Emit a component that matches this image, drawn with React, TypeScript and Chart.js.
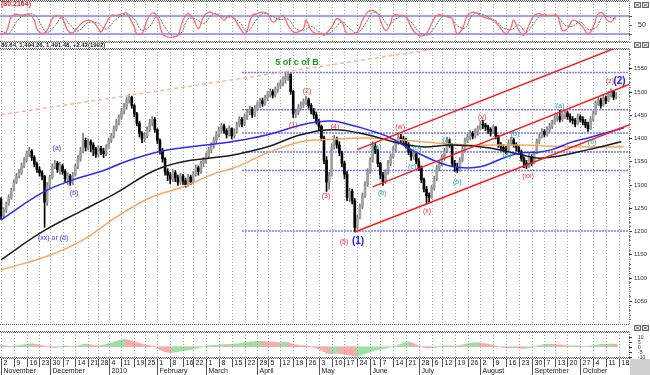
import React, { useEffect, useRef } from "react";
import { Chart, registerables } from "chart.js";
Chart.register(...registerables);

const FONT = "'Liberation Sans', Arial, sans-serif";

// ---------- calendar (categories) ----------
const HOLIDAYS = ["2009-11-26", "2009-12-25", "2010-01-01", "2010-01-18", "2010-02-15", "2010-04-02", "2010-05-31", "2010-07-05", "2010-09-06"];
const MONTH_NAMES = ["January", "February", "March", "April", "May", "June", "July", "August", "September", "October", "November", "December"];

// ---------- price bars (close / high / low per trading day) ----------
const FIRST_OPEN = 1268;
const closes = [1232,1245,1258,1272,1286, 1305,1318,1326,1340,1352, 1366,1372,1358,1344,1332, 1325,1318,1262,1298,1315,
  1338,1346,1332,1340, 1328,1312,1318,1305,1320, 1338,1355,1372,1395,1380, 1392,1385,1376,1365, 1378,1372,1366,1380,
  1395,1405,1420,1432,1445, 1458,1468,1482,1488,1470, 1452,1432,1410,1398, 1405,1418,1432,1440,1418,
  1395,1372,1355,1328,1320, 1312,1325,1314,1305,1318, 1308,1300,1316,1306, 1322,1336,1328,1345,1352,
  1362,1374,1384,1395,1408, 1418,1426,1416,1408,1420, 1405,1414,1428,1440,1430, 1446,1456,1462,1450,1464, 1472,1480,1474,1486,
  1494,1500,1492,1504,1512, 1518,1526,1532,1538,1500, 1452,1455,1466,1472,1478, 1482,1470,1458,1450,1436,
  1425,1400,1352,1305,1318, 1380,1398,1385,1368,1345, 1322,1272,1285,1265,1208, 1228,1252,1276,1300,1328,
  1352,1382,1372,1345, 1320,1306,1326,1346,1360, 1376,1390,1402,1398,1394, 1384,1370,1360,1366,1350, 1336,1310,1290,1276,1272,
  1292,1312,1336,1346, 1358,1372,1394,1386,1346, 1338,1332,1352,1376,1394, 1402,1410,1404,1414,1420,
  1430,1428,1424,1418,1414, 1424,1404,1386,1380,1376, 1374,1390,1396,1386,1380, 1370,1356,1346,1340,1360, 1346,1366,1392,1402,1414,
  1408,1418,1426,1432, 1442,1446,1440,1450,1454, 1446,1440,1438,1430,1446, 1440,1434,1428,1420,1440,
  1452,1474,1482,1470,1486, 1480,1494,1500,1488,1491];
const highs = [1272,1250,1262,1278,1292, 1310,1324,1332,1346,1358, 1372,1380,1375,1362,1348, 1338,1330,1320,1304,1320,
  1344,1352,1350,1348, 1344,1332,1325,1322,1326, 1344,1362,1380,1410,1400, 1398,1396,1390,1380, 1384,1382,1378,1386,
  1400,1410,1426,1440,1450, 1464,1474,1488,1494,1490, 1472,1455,1436,1414, 1412,1424,1440,1446,1444,
  1420,1398,1378,1358,1334, 1326,1332,1330,1320,1324, 1322,1314,1322,1320, 1328,1342,1340,1350,1358,
  1368,1380,1390,1402,1414, 1424,1432,1430,1420,1426, 1422,1420,1434,1446,1444, 1452,1462,1468,1466,1470, 1478,1486,1486,1492,
  1500,1506,1504,1510,1518, 1524,1532,1540,1544,1536, 1502,1462,1472,1478,1484, 1490,1486,1474,1464,1456,
  1440,1428,1404,1360,1326, 1388,1406,1402,1392,1372, 1350,1328,1292,1290,1270, 1234,1258,1282,1306,1334,
  1358,1392,1388,1376, 1348,1326,1332,1352,1366, 1382,1396,1412,1408,1404, 1400,1390,1376,1372,1370, 1356,1340,1314,1296,1282,
  1298,1318,1342,1352, 1364,1378,1402,1398,1388, 1352,1346,1358,1382,1400, 1408,1416,1414,1420,1426,
  1436,1438,1432,1428,1422, 1428,1424,1406,1390,1386, 1382,1396,1402,1400,1390, 1384,1374,1360,1352,1366, 1364,1372,1398,1408,1420,
  1418,1424,1432,1438, 1448,1452,1460,1456,1460, 1458,1452,1446,1442,1452, 1450,1446,1440,1434,1446,
  1458,1480,1488,1486,1492, 1490,1500,1506,1502,1498];
const lows = [1225,1228,1240,1255,1268, 1288,1302,1314,1322,1336, 1348,1360,1352,1338,1326, 1318,1310,1208,1255,1292,
  1312,1334,1326,1322, 1322,1306,1300,1298,1300, 1318,1334,1350,1368,1372, 1374,1370,1362,1358, 1360,1364,1358,1362,
  1378,1390,1400,1415,1428, 1440,1452,1462,1475,1464, 1446,1426,1402,1390, 1392,1400,1414,1426,1412,
  1388,1365,1348,1320,1308, 1302,1306,1306,1298,1300, 1300,1294,1296,1300, 1302,1318,1320,1324,1338,
  1346,1358,1368,1378,1390, 1402,1410,1410,1400,1404, 1398,1400,1410,1424,1424, 1426,1440,1450,1444,1446, 1458,1466,1468,1470,
  1480,1488,1486,1488,1498, 1506,1512,1518,1524,1494, 1444,1444,1450,1460,1466, 1472,1464,1452,1442,1430,
  1418,1394,1345,1285,1290, 1320,1376,1378,1362,1338, 1312,1265,1262,1258,1198, 1204,1226,1248,1272,1296,
  1324,1348,1366,1338, 1312,1298,1302,1322,1340, 1356,1372,1386,1390,1386, 1378,1364,1352,1354,1344, 1330,1304,1284,1258,1262,
  1270,1288,1308,1330, 1340,1352,1368,1380,1340, 1328,1326,1328,1348,1372, 1390,1396,1398,1400,1406,
  1418,1420,1416,1410,1404, 1410,1398,1380,1372,1370, 1366,1370,1384,1380,1372, 1364,1350,1336,1334,1336, 1340,1344,1366,1388,1400,
  1402,1404,1412,1420, 1430,1436,1434,1436,1442, 1440,1434,1430,1424,1428, 1434,1428,1422,1414,1418,
  1436,1450,1470,1464,1468, 1474,1478,1488,1482,1484];

// ---------- moving averages [day index, value] ----------
const maBlue = [[0,1224],[16,1282],[28,1310],[40,1330],[49,1350],[63,1372],[80,1385],[90,1392],[104,1407],[117,1428],[124,1435],[130,1436],[135,1430],[143,1418],[151,1403],[158,1381],[164,1364],[171,1347],[178,1337],[187,1338],[196,1357],[203,1368],[209,1369],[215,1375],[222,1390],[229,1400],[236,1411],[243,1422]];
const maBlack = [[0,1138],[16,1198],[32,1245],[45,1282],[59,1328],[70,1348],[85,1359],[91,1364],[104,1381],[117,1407],[130,1418],[143,1407],[153,1392],[164,1381],[176,1385],[190,1379],[203,1364],[209,1357],[215,1359],[229,1375],[242,1392]];
const maOrange = [[0,1116],[19,1148],[32,1181],[45,1230],[58,1271],[71,1295],[84,1325],[91,1336],[104,1368],[117,1392],[125,1396],[143,1400],[156,1396],[164,1392],[183,1385],[203,1385],[222,1381],[243,1381]];

// ---------- drawn lines ----------
const trendDashed = [[0,1450],[175,1596]];
const channelUpper = [[139,1375],[245,1605]];
const channelMiddle = [[145,1295],[245,1515]];
const channelLower = [[138,1198],[245,1428]];
const fibLevels = [1200, 1330, 1370, 1411, 1461, 1541];
const fibFrom = 94;

// ---------- wave labels [day index, value, text] ----------
const redLabels = [[114,1428,"(1)"],[119.4,1500,"(2)"],[126.8,1275,"(3)"],[130.3,1424,"(4)"],[133.8,1176,"(5)"],[155.7,1424,"(w)"],[166.2,1243,"(x)"],[187.7,1446,"(y)"],[205.6,1318,"(xx)"],[237.6,1523,"(z)"]];
const tealLabels = [[146.7,1381,"(a)"],[148.7,1282,"(b)"],[160.4,1338,"(c)"],[162.3,1379,"(b)"],[174,1396,"(a)"],[178,1306,"(b)"],[197.4,1364,"(a)"],[200.5,1409,"(b)"],[218.1,1469,"(a)"],[230.6,1392,"(b)"]];
const blueLabels = [[21.8,1379,"(a)"],[28.5,1282,"(b)"],[20.3,1185,"(xx) or (d)"]];
const bigBlueLabels = [[139.3,1178,"(1)"],[241.3,1523,"(2)"]];
const titleLabel = [115.5, 1562, "5 of c of B"];
const headerText = "80.64, 1,494.26, 1,491.48, +2.42(1992)";
const priceTicks = [1050,1100,1150,1200,1250,1300,1350,1400,1450,1500,1550];

// ---------- stochastic [day index, value] ----------
const stochK = [[0,21],[2,25],[4,77],[6,86],[7,84],[9,84],[11,86],[13,66],[14,38],[16,21],[18,32],[20,71],[22,82],[24,71],[26,32],[28,24],[30,43],[32,60],[34,66],[36,60],[38,38],[39,27],[41,55],[43,82],[45,82],[47,86],[49,90],[50,77],[52,43],[53,21],[55,21],[57,66],[59,90],[61,77],[63,21],[65,10],[67,10],[69,16],[71,66],[73,88],[75,71],[77,38],[79,77],[81,93],[83,88],[85,82],[87,66],[89,82],[91,71],[93,43],[95,21],[96,32],[98,82],[100,88],[102,93],[104,88],[106,60],[108,71],[110,82],[112,49],[114,27],[116,27],[118,38],[119,66],[121,32],[123,21],[125,21],[126,16],
  [129,43],[131,71],[133,60],[135,21],[137,21],[139,27],[141,66],[143,93],[145,99],[147,88],[148,66],[150,32],[152,55],[153,82],[156,82],[158,77],[160,43],[162,21],[164,13],[166,21],[168,55],[170,82],[173,82],[174,77],[176,71],[177,43],[178,21],[180,38],[182,82],[184,93],[186,88],[188,77],[190,71],[192,66],[194,49],[197,21],[199,43],[200,66],[202,32],[204,16],[206,50],[208,82],[210,88],[212,82],[215,82],[217,82],[219,32],[221,38],[223,66],[225,60],[227,43],[229,21],[231,43],[233,88],[235,88],[236,71],[238,60],[240,82]];
const stochD = [[0,30],[3,22],[6,60],[9,82],[13,84],[16,45],[18,25],[21,48],[24,76],[27,50],[30,30],[34,58],[38,55],[41,36],[45,70],[49,86],[52,70],[55,32],[58,45],[61,80],[64,42],[67,14],[70,20],[73,70],[76,70],[79,55],[83,88],[87,76],[90,76],[93,60],[96,28],[99,60],[102,88],[106,78],[109,68],[112,70],[115,38],[118,32],[121,45],[124,28],[127,18],[130,36],[133,60],[136,38],[139,24],[142,52],[145,90],[148,82],[151,50],[154,70],[157,80],[160,60],[163,28],[166,16],[169,40],[172,76],[175,78],[178,48],[181,40],[184,84],[187,88],[190,76],[193,64],[196,40],[199,34],[202,50],[205,26],[208,58],[211,84],[214,82],[217,80],[220,50],[223,46],[226,60],[229,36],[232,40],[235,80],[238,74],[240,70]];
const stochTitle = "(80.2164)";

// ---------- MACD histogram, one value per trading day ----------
const macdHist = [1.5,1.2,0.8,0.5,0.3,0.5,0.8,1.2,
  1.6,2.0,2.4,2.8,3.0,2.6,2.2, 1.8,1.2,0.6,0.2,-0.4,-0.8,-1.0, -0.6,-0.2,0.3,0.8,0.5,0.2,-0.2, 0.4,1.0,1.6,2.2,2.6,2.2,1.8,
  1.4,1.0,0.8,1.2,1.8,2.4,3.0, 3.8,4.6,5.4,6.2,6.8,7.2,7.0, 6.4,5.8,5.0,4.2,3.4,2.6,2.0, 1.6,1.2,0.6,-0.4,-1.6,-3.0,-4.2,
  -5.0,-5.6,-6.0,-5.6,-5.2,-4.8,-4.4, -4.0,-3.6,-3.4,-3.0,-2.4,-1.8,-1.2, -0.6,0,0.6,1.0,1.2,1.4,1.6, 1.8,2.0,2.2,2.0,2.2,2.4,2.6,
  2.8,3.2,3.6,4.0,4.4,4.8,5.0, 5.2,5.4,5.6,5.4,5.2,5.0,4.8, 4.6,4.2,4.0,4.2,4.4,4.6,4.0, 3.2,2.4,1.8,1.4,1.2,1.0,0.8,
  0.4,-0.2,-0.8,-1.6,-2.4,-3.6,-5.0, -6.6,-7.2,-7.0,-6.6,-6.4,-6.8,-7.2, -7.6,-8.0,-8.4,-9.0,-9.6,-9.2,-8.6, -7.8,-7.0,-6.2,-5.4,-4.4,-3.6,-3.0,
  -2.6,-2.2,-1.6,-1.0,-0.4,0.2,0.8, 1.6,2.6,3.6,4.4,4.8,4.2,3.2, 2.0,0.8,-0.2,-0.8,-1.2,-1.4,-1.0, -0.8,-0.4,0,0.4,0.8,1.0,0.8,
  0.6,0.6,0.8,1.2,1.8,2.4,3.0, 3.4,3.8,4.0,4.2,3.8,3.4,3.0, 2.6,2.0,1.4,0.8,0.2,-0.4,-0.8, -1.0,-1.2,-1.0,-0.8,-1.0,-1.4,-1.6,
  -1.8,-1.6,-1.2,-0.6,0,0.6,1.2, 1.8,2.2,2.4,2.6,2.4,2.2,2.0, 1.8,1.6,1.2,1.0,0.8,0.8,1.0, 0.8,0.6,0.4,0.2,0.4,0.8,1.2,
  1.6,2.0,2.4,2.6,2.4,2.6,2.8,2.6,2.4];
const macdTicks = [10, 5, 0, -5, -10];

// ---------- layout ----------
const W = 650;
const PLOT_RIGHT = 629;
const X_MIN = -0.4;
const X_MAX = 245;

function tradingDays() {
  const out: Date[] = [];
  const d = new Date(Date.UTC(2009, 10, 2));
  const end = Date.UTC(2010, 9, 22);
  while (d.getTime() <= end) {
    const wd = d.getUTCDay();
    const iso = d.toISOString().slice(0, 10);
    if (wd !== 0 && wd !== 6 && !HOLIDAYS.includes(iso)) out.push(new Date(d.getTime()));
    d.setUTCDate(d.getUTCDate() + 1);
  }
  return out;
}

function weekStarts() {
  const days = tradingDays();
  const res: { idx: number; day: number; month: string | null }[] = [];
  let lastMonth = -1;
  days.forEach((d, i) => {
    const newWeek = i === 0 || d.getUTCDay() <= days[i - 1].getUTCDay();
    if (!newWeek) return;
    let j = i;
    let monthHere = -1;
    while (j < days.length && (j === i || days[j].getUTCDay() > days[j - 1].getUTCDay())) {
      const m = days[j].getUTCMonth();
      if (m !== lastMonth && monthHere === -1) monthHere = m;
      j++;
    }
    let label: string | null = null;
    if (monthHere !== -1) {
      lastMonth = monthHere;
      label = monthHere === 0 ? "2010" : MONTH_NAMES[monthHere];
    }
    res.push({ idx: i, day: d.getUTCDate(), month: label });
  });
  return res;
}

const WEEKS = weekStarts();

function pts(arr: number[][]) {
  return arr.map((p) => ({ x: p[0], y: p[1] }));
}

function drawWeekGrid(chart: any) {
  const { ctx, chartArea: a, scales } = chart;
  const x = scales.x;
  ctx.save();
  ctx.strokeStyle = "#a8a8a8";
  ctx.lineWidth = 1;
  ctx.setLineDash([1, 2]);
  WEEKS.forEach((w) => {
    const px = Math.round(x.getPixelForValue(w.idx)) + 0.5;
    if (px < a.left || px > a.right - 1) return;
    ctx.beginPath();
    ctx.moveTo(px, a.top);
    ctx.lineTo(px, a.bottom);
    ctx.stroke();
  });
  ctx.restore();
}

function dottedBorder(ctx: CanvasRenderingContext2D, y: number, x0: number, x1: number) {
  ctx.save();
  ctx.fillStyle = "#5a5a5a";
  for (let x = x0; x < x1; x += 2) {
    ctx.fillRect(x, y, 1, 1);
    ctx.fillRect(x + 1, y + 1, 1, 1);
  }
  ctx.restore();
}

function rightAxisLine(ctx: CanvasRenderingContext2D, top: number, bottom: number) {
  ctx.save();
  ctx.fillStyle = "#777";
  for (let y = top; y < bottom; y += 2) ctx.fillRect(PLOT_RIGHT, y, 1, 1);
  ctx.restore();
}

function closeButtons(ctx: CanvasRenderingContext2D, y: number) {
  ctx.save();
  ctx.strokeStyle = "#666";
  ctx.lineWidth = 1;
  [634, 642].forEach((bx) => {
    ctx.strokeRect(bx + 0.5, y + 0.5, 6, 5);
    ctx.beginPath();
    ctx.moveTo(bx + 1.5, y + 1.5);
    ctx.lineTo(bx + 5.5, y + 4.5);
    ctx.moveTo(bx + 5.5, y + 1.5);
    ctx.lineTo(bx + 1.5, y + 4.5);
    ctx.stroke();
  });
  ctx.restore();
}

function xScale() {
  return { type: "linear", min: X_MIN, max: X_MAX, display: false, offset: false, grid: { display: false } };
}

function baseOptions(yMin: number, yMax: number, padding: any) {
  return {
    responsive: false,
    animation: false,
    devicePixelRatio: 1,
    events: [],
    layout: { padding },
    plugins: { legend: { display: false }, tooltip: { enabled: false }, title: { display: false } },
    scales: {
      x: xScale(),
      y: { type: "linear", min: yMin, max: yMax, display: false, grid: { display: false } },
    },
  };
}

// ---------- stochastic panel ----------
function stochConfig(): any {
  const gridPlugin = { id: "sgrid", beforeDatasetsDraw: (c: any) => drawWeekGrid(c) };
  const deco = {
    id: "sdeco",
    afterDraw: (c: any) => {
      const { ctx, chartArea: a, scales } = c;
      dottedBorder(ctx, 0, 0, PLOT_RIGHT);
      rightAxisLine(ctx, a.top, a.bottom);
      ctx.save();
      ctx.font = `bold 7px ${FONT}`;
      ctx.fillStyle = "#e02020";
      ctx.textBaseline = "middle";
      ctx.textAlign = "left";
      ctx.fillText(stochTitle, 1, 4);
      ctx.fillStyle = "#333";
      ctx.font = `7px ${FONT}`;
      ctx.fillText("50", 638, scales.y.getPixelForValue(50));
      ctx.fillStyle = "#555";
      [20, 50, 80].forEach((v) => ctx.fillRect(PLOT_RIGHT, Math.round(scales.y.getPixelForValue(v)), 3, 1));
      ctx.restore();
      closeButtons(ctx, 2);
    },
  };
  return {
    type: "line",
    data: {
      datasets: [
        { data: [{ x: X_MIN, y: 80 }, { x: X_MAX, y: 80 }], borderColor: "#8080ff", borderWidth: 1.5, pointRadius: 0, order: 5 },
        { data: [{ x: X_MIN, y: 20 }, { x: X_MAX, y: 20 }], borderColor: "#8080ff", borderWidth: 1.5, pointRadius: 0, order: 5 },
        { data: pts(stochD), borderColor: "#707070", borderWidth: 1, borderDash: [2, 1], pointRadius: 0, tension: 0.4, order: 2 },
        { data: pts(stochK), borderColor: "#ff6a6a", borderWidth: 1.3, pointRadius: 0, tension: 0.4, order: 1 },
      ],
    },
    options: baseOptions(-3.33, 130, { left: 0, right: W - PLOT_RIGHT, top: 1, bottom: 0 }),
    plugins: [gridPlugin, deco],
  };
}

// ---------- main price panel ----------
function mainConfig(): any {
  const opens = closes.map((c, i) => (i === 0 ? FIRST_OPEN : closes[i - 1]));
  const up = closes.map((c, i) => c >= opens[i]);
  const wickData = closes.map((c, i) => ({ x: i, y: [lows[i], highs[i]] }));
  const bodyData = closes.map((c, i) => ({ x: i, y: [opens[i], c] }));
  const lineDs = (arr: number[][], color: string, width: number, order: number, extra: any = {}) => ({
    type: "line",
    data: pts(arr),
    borderColor: color,
    borderWidth: width,
    pointRadius: 0,
    tension: 0.4,
    order,
    ...extra,
  });
  const fibDs = fibLevels.map((v) => ({
    type: "line",
    data: [{ x: fibFrom, y: v }, { x: X_MAX, y: v }],
    borderColor: "#7878ff",
    borderWidth: 1.5,
    borderDash: [2, 1],
    pointRadius: 0,
    order: 20,
  }));
  const gridPlugin = { id: "mgrid", beforeDatasetsDraw: (c: any) => drawWeekGrid(c) };
  const deco = {
    id: "mdeco",
    afterDraw: (c: any) => {
      const { ctx, chartArea: a, scales } = c;
      const x = scales.x;
      const y = scales.y;
      ctx.save();
      ctx.textAlign = "center";
      ctx.textBaseline = "middle";
      const put = (list: any[], color: string, font: string) => {
        ctx.fillStyle = color;
        ctx.font = font;
        list.forEach((l) => ctx.fillText(l[2], x.getPixelForValue(l[0]), y.getPixelForValue(l[1])));
      };
      put(redLabels, "#ff2a2a", `7px ${FONT}`);
      put(tealLabels, "#1aa0a0", `7px ${FONT}`);
      put(blueLabels, "#3030ff", `7px ${FONT}`);
      put(bigBlueLabels, "#2020ff", `bold 10px ${FONT}`);
      put([titleLabel], "#1c9a1c", `bold 9px ${FONT}`);
      ctx.textAlign = "left";
      ctx.fillStyle = "#222";
      ctx.font = `bold 6px ${FONT}`;
      ctx.fillText(headerText, 1, 4.5);
      ctx.fillStyle = "#333";
      ctx.font = `6px ${FONT}`;
      priceTicks.forEach((v) => {
        const py = Math.round(y.getPixelForValue(v));
        ctx.fillText(String(v), 634, py + 0.5);
        ctx.fillRect(PLOT_RIGHT, py, 3, 1);
      });
      ctx.fillStyle = "#888";
      for (let v = 1010; v < 1590; v += 10) {
        if (v % 50 === 0) continue;
        ctx.fillRect(PLOT_RIGHT, Math.round(y.getPixelForValue(v)), 2, 1);
      }
      ctx.restore();
      rightAxisLine(ctx, a.top, a.bottom);
      dottedBorder(ctx, 0, 0, PLOT_RIGHT);
      dottedBorder(ctx, 7, 0, PLOT_RIGHT);
      dottedBorder(ctx, a.bottom, 0, PLOT_RIGHT);
      closeButtons(ctx, 1);
    },
  };
  return {
    type: "bar",
    data: {
      datasets: [
        ...fibDs,
        { type: "bar", data: wickData, backgroundColor: up.map((u) => (u ? "#7a7a7a" : "#000")), barThickness: 1, grouped: false, order: 8 },
        { type: "bar", data: bodyData, backgroundColor: up.map((u) => (u ? "#a0a0a0" : "#000")), barThickness: 2, grouped: false, order: 7 },
        lineDs(maOrange, "#f5a860", 1.5, 4),
        lineDs(maBlack, "#1a1a1a", 1.5, 3),
        lineDs(maBlue, "#2a2aff", 1.5, 2),
        lineDs(trendDashed, "#f6b896", 1.5, 6, { borderDash: [4, 3], tension: 0 }),
        lineDs(channelUpper, "#ff1a1a", 1.5, 1, { tension: 0 }),
        lineDs(channelMiddle, "#ff1a1a", 1.5, 1, { tension: 0 }),
        lineDs(channelLower, "#ff1a1a", 1.5, 1, { tension: 0 }),
      ],
    },
    options: baseOptions(1000, 1591.4, { left: 0, right: W - PLOT_RIGHT, top: 8, bottom: 1 }),
    plugins: [gridPlugin, deco],
  };
}

// ---------- MACD + date axis panel ----------
function macdConfig(): any {
  const colors = macdHist.map((v, i) => (i === 0 || v >= macdHist[i - 1] ? "rgba(70,190,70,0.5)" : "rgba(240,90,90,0.5)"));
  const gridPlugin = { id: "cgrid", beforeDatasetsDraw: (c: any) => drawWeekGrid(c) };
  const deco = {
    id: "cdeco",
    afterDraw: (c: any) => {
      const { ctx, chartArea: a, scales } = c;
      const x = scales.x;
      const y = scales.y;
      dottedBorder(ctx, a.top - 1, 0, PLOT_RIGHT);
      dottedBorder(ctx, a.bottom, 0, PLOT_RIGHT);
      rightAxisLine(ctx, a.top, a.bottom);
      closeButtons(ctx, 0);
      ctx.save();
      ctx.fillStyle = "#333";
      ctx.font = `5px ${FONT}`;
      ctx.textAlign = "left";
      ctx.textBaseline = "middle";
      macdTicks.forEach((v) => {
        const py = Math.round(y.getPixelForValue(v));
        ctx.fillText(String(v), 638, py + 0.5);
        ctx.fillRect(PLOT_RIGHT, py, 3, 1);
      });
      const row1 = a.bottom + 2;
      ctx.beginPath();
      ctx.rect(0, row1, PLOT_RIGHT, 20);
      ctx.clip();
      ctx.font = `7px ${FONT}`;
      ctx.fillStyle = "#222";
      ctx.strokeStyle = "#555";
      ctx.lineWidth = 1;
      WEEKS.forEach((w) => {
        const px = Math.round(x.getPixelForValue(w.idx)) + 0.5;
        ctx.beginPath();
        ctx.moveTo(px, row1);
        ctx.lineTo(px, row1 + 8);
        ctx.stroke();
        ctx.fillText(String(w.day), px + 2, row1 + 4.5);
        if (w.month) {
          ctx.beginPath();
          ctx.moveTo(px, row1 + 8);
          ctx.lineTo(px, row1 + 17);
          ctx.stroke();
          ctx.fillText(w.month, px + 2, row1 + 12.5);
        }
      });
      ctx.restore();
      ctx.save();
      ctx.fillStyle = "#d0d0d0";
      ctx.fillRect(PLOT_RIGHT + 1, a.bottom + 2, W - PLOT_RIGHT, 20);
      ctx.restore();
    },
  };
  return {
    type: "bar",
    data: {
      datasets: [
        { data: macdHist.map((v, i) => ({ x: i, y: v })), backgroundColor: colors, barThickness: 2, grouped: false },
      ],
    },
    options: baseOptions(-10.3, 14.7, { left: 0, right: W - PLOT_RIGHT, top: 7, bottom: 18 }),
    plugins: [gridPlugin, deco],
  };
}

export default function App() {
  const r1 = useRef<HTMLCanvasElement>(null);
  const r2 = useRef<HTMLCanvasElement>(null);
  const r3 = useRef<HTMLCanvasElement>(null);
  useEffect(() => {
    const c1 = new Chart(r1.current as HTMLCanvasElement, stochConfig());
    const c2 = new Chart(r2.current as HTMLCanvasElement, mainConfig());
    const c3 = new Chart(r3.current as HTMLCanvasElement, macdConfig());
    return () => {
      c1.destroy();
      c2.destroy();
      c3.destroy();
    };
  }, []);
  return (
    <div style={{ position: "fixed", left: 0, top: 0, width: W, height: 375, background: "#fff", overflow: "hidden" }}>
      <canvas ref={r1} width={W} height={41} style={{ position: "absolute", left: 0, top: 0 }} />
      <canvas ref={r2} width={W} height={284} style={{ position: "absolute", left: 0, top: 41 }} />
      <canvas ref={r3} width={W} height={50} style={{ position: "absolute", left: 0, top: 325 }} />
    </div>
  );
}
